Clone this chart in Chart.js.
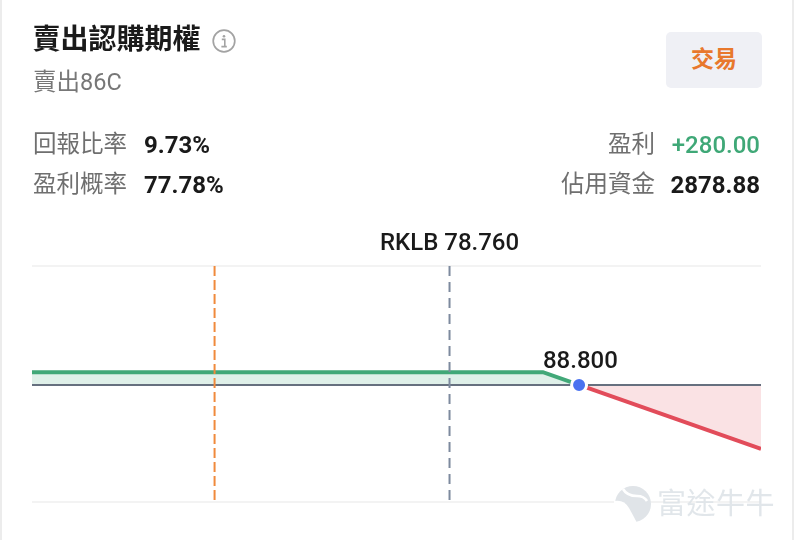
<!DOCTYPE html>
<html lang="zh-Hant">
<head>
<meta charset="utf-8">
<script src="https://cdn.jsdelivr.net/npm/chart.js@4"></script>
<style>
    html, body { margin: 0; padding: 0; background: #fff; }
    body {
        position: relative; width: 794px; height: 540px; overflow: hidden;
        font-family: Roboto, "Noto Sans CJK TC", sans-serif;
    }
    #chart { position: absolute; left: 0; top: 0; }
    .edge { position: absolute; top: 0; width: 2px; height: 540px; background: #ececec; }
    .txt { position: absolute; white-space: nowrap; line-height: 1; }
    .lbl { color: #6f6f6f; font-size: 23.5px; }
    .val { color: #1a1a1a; font-size: 24px; font-weight: 700; }
    #title { left: 32.5px; top: 26px; font-size: 28px; font-weight: 700; color: #1a1a1a; }
    #sub { left: 33px; top: 71px; font-size: 23.5px; color: #777; }
    #btn {
        position: absolute; left: 666px; top: 32px; width: 96px; height: 56px;
        border-radius: 5px; background: #eff0f5; color: #e8782c;
        font-size: 23px; font-weight: 700; text-align: center; line-height: 56px;
    }
    #info { position: absolute; left: 212px; top: 29px; }
    #logo { position: absolute; left: 614px; top: 485px; }
    #wm { left: 657px; top: 490px; font-size: 29px; letter-spacing: 0.5px; color: rgba(222, 227, 232, 0.9); }
</style>
</head>
<body>
<canvas id="chart" width="794" height="540"></canvas>
<div class="edge" style="left:0"></div>
<div class="edge" style="left:792px"></div>

<div class="txt" id="title">賣出認購期權</div>
<svg id="info" width="24" height="24" viewBox="0 0 24 24">
    <circle cx="12" cy="12" r="10.8" fill="none" stroke="#a3a3a3" stroke-width="1.7"/>
    <circle cx="12" cy="7.2" r="1.3" fill="#a3a3a3"/>
    <path d="M9.8 10.4h3v7M9.4 17.6h5.4" fill="none" stroke="#a3a3a3" stroke-width="1.6"/>
</svg>
<div class="txt" id="sub">賣出86C</div>
<div id="btn">交易</div>

<div class="txt lbl" style="left:33px;top:133px">回報比率</div>
<div class="txt val" style="left:144px;top:133px">9.73%</div>
<div class="txt lbl" style="left:33px;top:173px">盈利概率</div>
<div class="txt val" style="left:144px;top:173px">77.78%</div>
<div class="txt lbl" style="right:139px;top:133px">盈利</div>
<div class="txt val" style="right:34px;top:133px;color:#3fa877;font-weight:500">+280.00</div>
<div class="txt lbl" style="right:139px;top:173px">佔用資金</div>
<div class="txt val" style="right:34px;top:173px">2878.88</div>

<svg id="logo" width="38" height="38" viewBox="0 0 38 38">
    <circle cx="19" cy="19" r="18" fill="#e0e4e8"/>
    <path d="M0 16Q10 14 15 23T23 38L0 38Z" fill="#fff"/>
    <path d="M9 4Q13 11 23 11Q30 11 33 16" fill="none" stroke="#fff" stroke-width="2.6"/>
    <circle cx="15" cy="19" r="1.8" fill="#e0e4e8"/>
</svg>
<div class="txt" id="wm">富途牛牛</div>

<script>
// axis range
const xMin = 46.4;
const xMax = 102.9;
const yMin = -2580;
const yMax = 2620;

// payoff of the short call
const profitPrices = [46.4, 86, 88.8];
const profitValues = [280, 280, 0];
const lossPrices = [88.8, 102.9];
const lossValues = [0, -1410];

const stockName = 'RKLB';
const stockPrice = 78.76;
const lowerMarker = 60.55;
const breakEven = 88.8;

function toPoints(xs, ys) {
    return xs.map((x, i) => ({ x: x, y: ys[i] }));
}

// drawn top down so the dashes start at the top edge
function vertical(x) {
    return [{ x: x, y: yMax }, { x: x, y: yMin }];
}

// price labels sit above their marks
const priceLabels = {
    id: 'priceLabels',
    afterDatasetsDraw(chart) {
        const { ctx, scales, chartArea } = chart;
        ctx.save();
        ctx.fillStyle = '#1a1a1a';
        ctx.font = '500 24px Roboto, "Noto Sans CJK TC", sans-serif';
        ctx.textAlign = 'center';
        ctx.textBaseline = 'alphabetic';
        ctx.fillText(stockName + ' ' + stockPrice.toFixed(3), scales.x.getPixelForValue(stockPrice), chartArea.top - 16);
        ctx.fillText(breakEven.toFixed(3), scales.x.getPixelForValue(breakEven + 0.1), scales.y.getPixelForValue(0) - 17);
        ctx.restore();
    }
};

new Chart(document.getElementById('chart').getContext('2d'), {
    type: 'line',
    data: {
        datasets: [
            {
                label: 'strike',
                data: vertical(lowerMarker),
                borderColor: '#f08a3c',
                borderWidth: 2,
                borderDash: [10, 4],
                pointRadius: 0,
                order: 2
            },
            {
                label: 'price',
                data: vertical(stockPrice),
                borderColor: '#7d8a9e',
                borderWidth: 2,
                borderDash: [10, 6],
                pointRadius: 0,
                order: 2
            },
            {
                label: 'zero',
                data: toPoints([xMin, xMax], [0, 0]),
                borderColor: '#66707f',
                borderWidth: 2,
                pointRadius: 0,
                order: 2.5
            },
            {
                label: 'profit',
                data: toPoints(profitPrices, profitValues),
                borderColor: '#41a878',
                backgroundColor: '#dff0e9',
                borderWidth: 4,
                fill: 'origin',
                pointRadius: 0,
                order: 3
            },
            {
                label: 'loss',
                data: toPoints(lossPrices, lossValues),
                borderColor: '#e24c5a',
                backgroundColor: 'rgba(226, 76, 90, 0.16)',
                borderWidth: 4,
                fill: 'origin',
                pointRadius: 0,
                order: 3
            },
            {
                label: 'break even',
                data: [{ x: breakEven, y: 0 }],
                showLine: false,
                pointRadius: 7.5,
                pointBorderWidth: 3,
                pointBackgroundColor: '#4a72f0',
                pointBorderColor: '#fff',
                order: 1
            }
        ]
    },
    options: {
        responsive: false,
        animation: false,
        layout: { padding: { left: 32, right: 33, top: 266, bottom: 38 } },
        plugins: {
            legend: { display: false },
            tooltip: { enabled: false }
        },
        elements: { line: { tension: 0 } },
        scales: {
            x: { type: 'linear', min: xMin, max: xMax, display: false },
            y: {
                min: yMin,
                max: yMax,
                afterBuildTicks: scale => { scale.ticks = [{ value: yMin }, { value: yMax }]; },
                border: { display: false },
                grid: { color: '#f3f3f3', lineWidth: 2, drawTicks: false },
                ticks: { display: false }
            }
        }
    },
    plugins: [priceLabels]
});
</script>
</body>
</html>
